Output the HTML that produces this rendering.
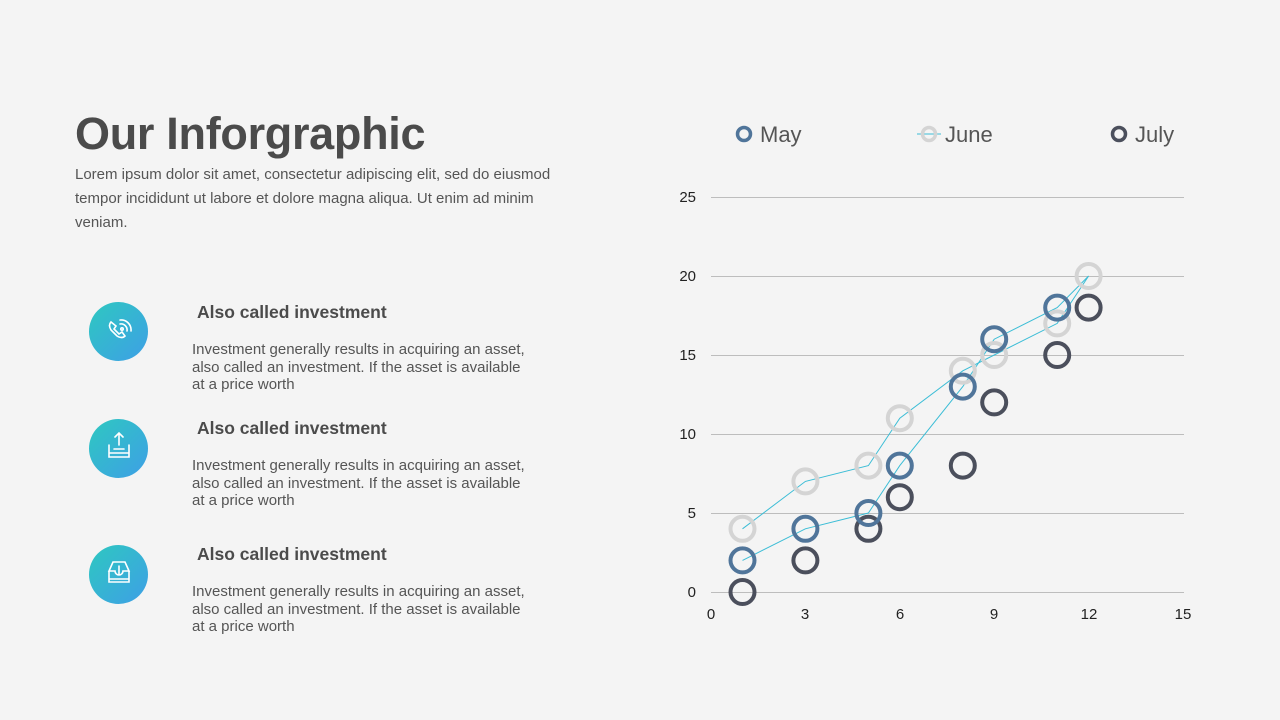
<!DOCTYPE html>
<html><head><meta charset="utf-8"><style>
body{margin:0;width:1280px;height:720px;background:#f4f4f4;font-family:"Liberation Sans",sans-serif;position:relative;overflow:hidden;color:#555}
.a{position:absolute}
h1{position:absolute;left:75px;top:108px;margin:0;font-size:45px;font-weight:bold;color:#4b4b4b;letter-spacing:-0.3px}
.intro{left:75px;top:163px;width:505px;font-size:15px;line-height:24px;color:#555}
.ic{width:59px;height:59px;border-radius:50%;background:linear-gradient(135deg,#2ec8c0,#3e9fe6)}
.t{font-size:17.5px;font-weight:bold;color:#4b4b4b}
.d{font-size:15px;line-height:17.5px;color:#555;width:340px}
</style></head><body>
<h1>Our Inforgraphic</h1>
<div class="a intro">Lorem ipsum dolor sit amet, consectetur adipiscing elit, sed do eiusmod tempor incididunt ut labore et dolore magna aliqua. Ut enim ad minim veniam.</div>

<div class="a ic" style="left:89px;top:302px"></div>
<div class="a t" style="left:197px;top:302px">Also called investment</div>
<div class="a d" style="left:192px;top:341px">Investment generally results in acquiring an asset, also called an investment. If the asset is available at a price worth</div>
<div class="a ic" style="left:89px;top:419px"></div>
<div class="a t" style="left:197px;top:418px">Also called investment</div>
<div class="a d" style="left:192px;top:457px">Investment generally results in acquiring an asset, also called an investment. If the asset is available at a price worth</div>
<div class="a ic" style="left:89px;top:545px"></div>
<div class="a t" style="left:197px;top:544px">Also called investment</div>
<div class="a d" style="left:192px;top:583px">Investment generally results in acquiring an asset, also called an investment. If the asset is available at a price worth</div>

<svg class="a" style="left:0;top:0" width="1280" height="720">
<g fill="none" stroke="#fff" stroke-width="1.6" stroke-linecap="round">
<path d="M111 322 q-3 3 0 8 l6 6 q5 3 8 0 l-3 -4 -3 2 -5 -5 2 -3z"/>
<circle cx="122" cy="329" r="1.2"/><path d="M120 324 a6 6 0 0 1 7 7 M120 320 a10 10 0 0 1 11 11"/>
<path d="M109 445 v8 h20 v-8 M109 453 l0 4 h20 v-4 M114 449 h10 M119 445 v-12 M115 437 l4 -4 4 4"/>
<path d="M109 571 v8 h20 v-8 M109 579 v3 h20 v-3 M109 571 l4 -9 h12 l4 9 h-6 a4 4 0 0 1 -8 0z M119 574 v-8"/>
</g>
<g font-size="15" fill="#222" text-anchor="end">
<text x="696" y="202">25</text><text x="696" y="281">20</text><text x="696" y="360">15</text><text x="696" y="439">10</text><text x="696" y="518">5</text><text x="696" y="597">0</text>
</g>
<g stroke="#bdbdbd" stroke-width="1">
<line x1="711" x2="1184" y1="197.5" y2="197.5"/><line x1="711" x2="1184" y1="276.5" y2="276.5"/><line x1="711" x2="1184" y1="355.5" y2="355.5"/><line x1="711" x2="1184" y1="434.5" y2="434.5"/><line x1="711" x2="1184" y1="513.5" y2="513.5"/><line x1="711" x2="1184" y1="592.5" y2="592.5"/>
</g>
<g font-size="15" fill="#222" text-anchor="middle">
<text x="711" y="619">0</text><text x="805" y="619">3</text><text x="900" y="619">6</text><text x="994" y="619">9</text><text x="1089" y="619">12</text><text x="1183" y="619">15</text>
</g>
<g fill="none" stroke="#3bbdd6" stroke-width="1">
<polyline points="742.5,560.4 805.4,528.8 868.4,513 899.8,465.6 962.8,386.6 994.2,339.2 1057.2,307.6 1088.6,276"/>
<polyline points="742.5,528.8 805.4,481.4 868.4,465.6 899.8,418.2 962.8,370.8 994.2,355 1057.2,323.4 1088.6,276"/>
</g>
<g fill="none" stroke-width="4">
<g stroke="#4b4f5c">
<circle cx="742.5" cy="592" r="12"/><circle cx="805.4" cy="560.4" r="12"/><circle cx="868.4" cy="528.8" r="12"/><circle cx="899.8" cy="497.2" r="12"/><circle cx="962.8" cy="465.6" r="12"/><circle cx="994.2" cy="402.4" r="12"/><circle cx="1057.2" cy="355" r="12"/><circle cx="1088.6" cy="307.6" r="12"/>
</g>
<g stroke="#d4d4d4">
<circle cx="742.5" cy="528.8" r="12"/><circle cx="805.4" cy="481.4" r="12"/><circle cx="868.4" cy="465.6" r="12"/><circle cx="899.8" cy="418.2" r="12"/><circle cx="962.8" cy="370.8" r="12"/><circle cx="994.2" cy="355" r="12"/><circle cx="1057.2" cy="323.4" r="12"/>
</g>
<g stroke="#50759a">
<circle cx="742.5" cy="560.4" r="12"/><circle cx="805.4" cy="528.8" r="12"/><circle cx="868.4" cy="513" r="12"/><circle cx="899.8" cy="465.6" r="12"/><circle cx="962.8" cy="386.6" r="12"/><circle cx="994.2" cy="339.2" r="12"/><circle cx="1057.2" cy="307.6" r="12"/>
</g>
<circle cx="1088.6" cy="276" r="12" stroke="#d4d4d4"/>
</g>
<g fill="none" stroke-width="3.5">
<circle cx="744" cy="134" r="6.5" stroke="#50759a"/>
<line x1="917" x2="941" y1="134" y2="134" stroke="#3bbdd6" stroke-width="1"/>
<circle cx="929" cy="134" r="6.5" stroke="#d4d4d4"/>
<circle cx="1119" cy="134" r="6.5" stroke="#4b4f5c"/>
</g>
<g font-size="22" fill="#555">
<text x="760" y="142">May</text><text x="945" y="142">June</text><text x="1135" y="142">July</text>
</g>
</svg>
</body></html>
